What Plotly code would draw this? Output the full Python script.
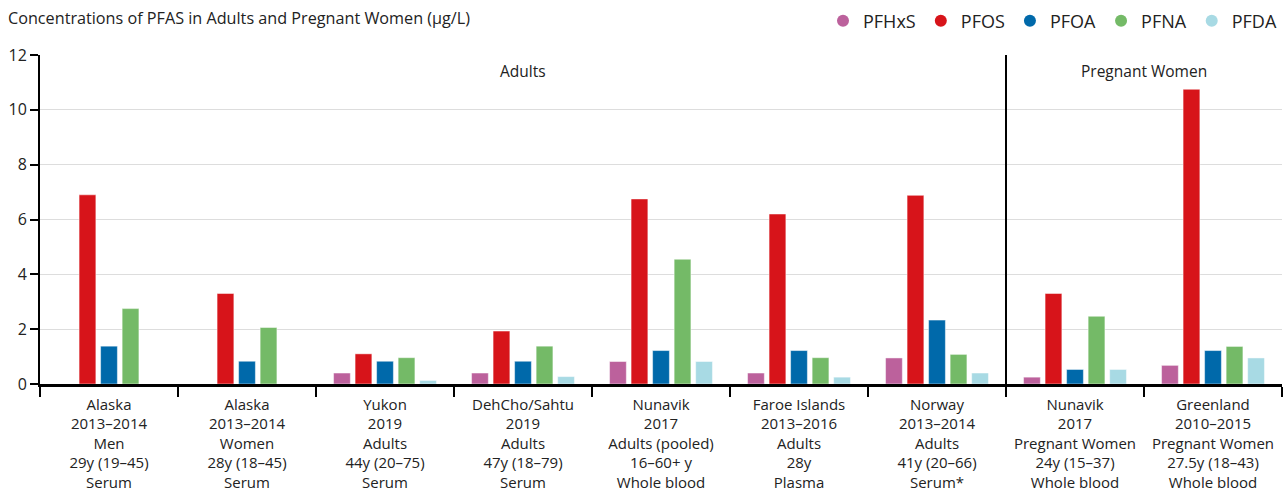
import plotly.graph_objects as go

categories = [
    "Alaska<br>2013–2014<br>Men<br>29y (19–45)<br>Serum",
    "Alaska<br>2013–2014<br>Women<br>28y (18–45)<br>Serum",
    "Yukon<br>2019<br>Adults<br>44y (20–75)<br>Serum",
    "DehCho/Sahtu<br>2019<br>Adults<br>47y (18–79)<br>Serum",
    "Nunavik<br>2017<br>Adults (pooled)<br>16–60+ y<br>Whole blood",
    "Faroe Islands<br>2013–2016<br>Adults<br>28y<br>Plasma",
    "Norway<br>2013–2014<br>Adults<br>41y (20–66)<br>Serum*",
    "Nunavik<br>2017<br>Pregnant Women<br>24y (15–37)<br>Whole blood",
    "Greenland<br>2010–2015<br>Pregnant Women<br>27.5y (18–43)<br>Whole blood",
]

pfhxs = [None, None, 0.40, 0.40, 0.82, 0.40, 0.95, 0.25, 0.68]
pfos = [6.9, 3.3, 1.1, 1.93, 6.75, 6.2, 6.88, 3.3, 10.75]
pfoa = [1.38, 0.83, 0.83, 0.83, 1.22, 1.22, 2.33, 0.53, 1.22]
pfna = [2.75, 2.06, 0.96, 1.38, 4.55, 0.96, 1.08, 2.47, 1.37]
pfda = [None, None, 0.13, 0.27, 0.82, 0.25, 0.40, 0.53, 0.95]

series = [
    ("PFHxS", pfhxs, "#BC619C"),
    ("PFOS", pfos, "#D7141A"),
    ("PFOA", pfoa, "#0069AA"),
    ("PFNA", pfna, "#74BA67"),
    ("PFDA", pfda, "#A8DAE4"),
]

title_text = "Concentrations of PFAS in Adults and Pregnant Women (µg/L)"
group_labels = ["Adults", "Pregnant Women"]

FONT = "Open Sans"
fig = go.Figure()
for name, vals, color in series:
    fig.add_trace(go.Bar(
        x=categories, y=vals, name=name, showlegend=False,
        marker=dict(color=color, line=dict(color="rgba(255,255,255,0.6)", width=0.8)),
    ))
for name, vals, color in series:
    fig.add_trace(go.Scatter(
        x=[None], y=[None], mode="markers", name=name,
        marker=dict(color=color, size=12, symbol="circle"),
    ))

fig.add_shape(type="line", xref="x", yref="y", x0=6.5, x1=6.5, y0=0, y1=12,
              line=dict(color="black", width=2))
fig.add_annotation(x=3, y=11.42, xref="x", yref="y", text=group_labels[0],
                   showarrow=False, font=dict(size=15.5, color="#222"))
fig.add_annotation(x=7.5, y=11.42, xref="x", yref="y", text=group_labels[1],
                   showarrow=False, font=dict(size=15.5, color="#222"))

fig.update_layout(
    width=1283, height=490,
    margin=dict(l=40, r=1, t=55, b=106),
    paper_bgcolor="white", plot_bgcolor="white",
    font=dict(family=FONT, size=15, color="#222"),
    barmode="group", bargap=0.22, bargroupgap=0.22,
    title=dict(text=title_text, x=8 / 1283, xanchor="left", xref="container",
               y=1 - 18 / 490, yanchor="middle", yref="container",
               font=dict(size=16.2, color="#222", family=FONT)),
    legend=dict(orientation="h", x=1.0, xanchor="right", xref="paper",
                y=1 - 21 / 490, yanchor="middle", yref="container",
                font=dict(size=18, color="#222"), itemwidth=30,
                bgcolor="rgba(0,0,0,0)"),
    xaxis=dict(type="category", showline=True, linecolor="black", linewidth=2.5,
               ticks="outside", tickson="boundaries", ticklen=10, tickwidth=2,
               tickcolor="black", showgrid=False, range=[-0.5, 8.5],
               ticklabelstandoff=5, automargin=False,
               tickfont=dict(size=15, color="#222")),
    yaxis=dict(range=[0, 12], dtick=2, showline=True, linecolor="black", linewidth=2,
               ticks="outside", ticklen=8, tickwidth=2, tickcolor="black",
               showgrid=True, gridcolor="#dddddd", gridwidth=1, zeroline=False,
               automargin=False,
               tickfont=dict(size=16, color="#222")),
)

fig.write_html("out.html", config={"displayModeBar": False},
               post_script="document.body.style.margin='0px';")
